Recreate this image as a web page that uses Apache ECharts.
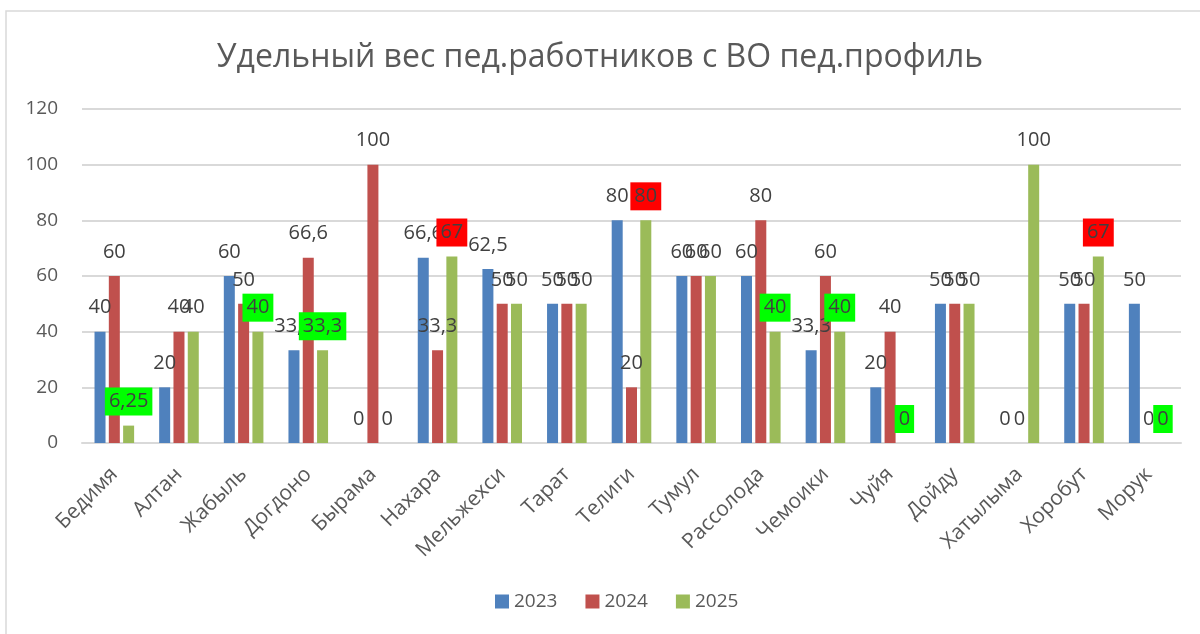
<!doctype html>
<html lang="ru">
<head>
<meta charset="UTF-8">
<title>Удельный вес пед.работников с ВО пед.профиль</title>
<script src="https://cdn.jsdelivr.net/npm/echarts@6/dist/echarts.min.js"></script>
<style>
    html, body { margin: 0; padding: 0; background: #fff; }
    #main { width: 1200px; height: 634px; }
</style>
</head>
<body>
<div id="main"></div>
<script>
    var categories = ['Бедимя', 'Алтан', 'Жабыль', 'Догдоно', 'Бырама', 'Нахара', 'Мельжехси', 'Тарат', 'Телиги',
        'Тумул', 'Рассолода', 'Чемоики', 'Чуйя', 'Дойду', 'Хатылыма', 'Хоробут', 'Морук'];
    var v2023 = [40, 20, 60, 33.3, 0, 66.6, 62.5, 50, 80, 60, 60, 33.3, 20, 50, 0, 50, 50];
    var v2024 = [60, 40, 50, 66.6, 100, 33.3, 50, 50, 20, 60, 80, 60, 40, 50, 0, 50, 0];
    var v2025 = [6.25, 40, 40, 33.3, 0, 67, 50, 50, 80, 60, 40, 40, 0, 50, 100, 67, 0];
    // подсветка подписей 2025: g - зелёный, r - красный
    var mark2025 = ['g', '', 'g', 'g', '', 'r', '', '', 'r', '', 'g', 'g', 'g', '', '', 'r', 'g'];
    var yTicks = [0, 20, 40, 60, 80, 100, 120];

    var textColor = '#595959';
    var font = 'Open Sans';

    function fmt(p) {
        return String(p.value).replace('.', ',');
    }

    function makeSeries(name, values, color, marks) {
        var data = [];
        for (var i = 0; i < values.length; i++) {
            var item = {value: values[i]};
            if (marks && marks[i]) {
                item.label = {backgroundColor: marks[i] == 'g' ? '#00ff00' : '#ff0000'};
            }
            data.push(item);
        }
        return {
            name: name,
            type: 'bar',
            barWidth: 11,
            barGap: '30%',
            itemStyle: {color: color},
            label: {
                show: true,
                position: 'top',
                distance: 10,
                color: '#404040',
                fontFamily: font,
                fontSize: 20,
                padding: [4, 4],
                formatter: fmt
            },
            data: data
        };
    }

    var myChart = echarts.init(document.getElementById('main'));
    var option = {
        animation: false,
        backgroundColor: '#fff',
        title: {
            text: 'Удельный вес пед.работников с ВО пед.профиль',
            left: 'center',
            top: 37,
            textStyle: {color: textColor, fontFamily: font, fontSize: 32, fontWeight: 'normal'}
        },
        legend: {
            bottom: 18,
            left: 490,
            itemWidth: 14,
            itemHeight: 14,
            itemGap: 28,
            icon: 'rect',
            textStyle: {color: textColor, fontFamily: font, fontSize: 19}
        },
        grid: {left: 82, right: 19, top: 109, bottom: 191},
        xAxis: {
            type: 'category',
            data: categories,
            axisLine: {lineStyle: {color: '#d9d9d9', width: 2}},
            axisTick: {show: false},
            axisLabel: {rotate: 45, color: textColor, fontFamily: font, fontSize: 21, margin: 28, interval: 0}
        },
        yAxis: {
            type: 'value',
            min: yTicks[0],
            max: yTicks[yTicks.length - 1],
            interval: yTicks[1] - yTicks[0],
            axisLine: {show: false},
            axisTick: {show: false},
            splitLine: {lineStyle: {color: '#d9d9d9', width: 2}},
            axisLabel: {color: textColor, fontFamily: font, fontSize: 19, margin: 24}
        },
        graphic: [{
            type: 'rect',
            shape: {x: 6, y: 11, width: 1300, height: 700},
            style: {fill: 'none', stroke: '#d9d9d9', lineWidth: 1.5},
            silent: true
        }],
        series: [
            makeSeries('2023', v2023, '#4f81bd'),
            makeSeries('2024', v2024, '#c0504d'),
            makeSeries('2025', v2025, '#9bbb59', mark2025)
        ]
    };
    myChart.setOption(option);
</script>
</body>
</html>
